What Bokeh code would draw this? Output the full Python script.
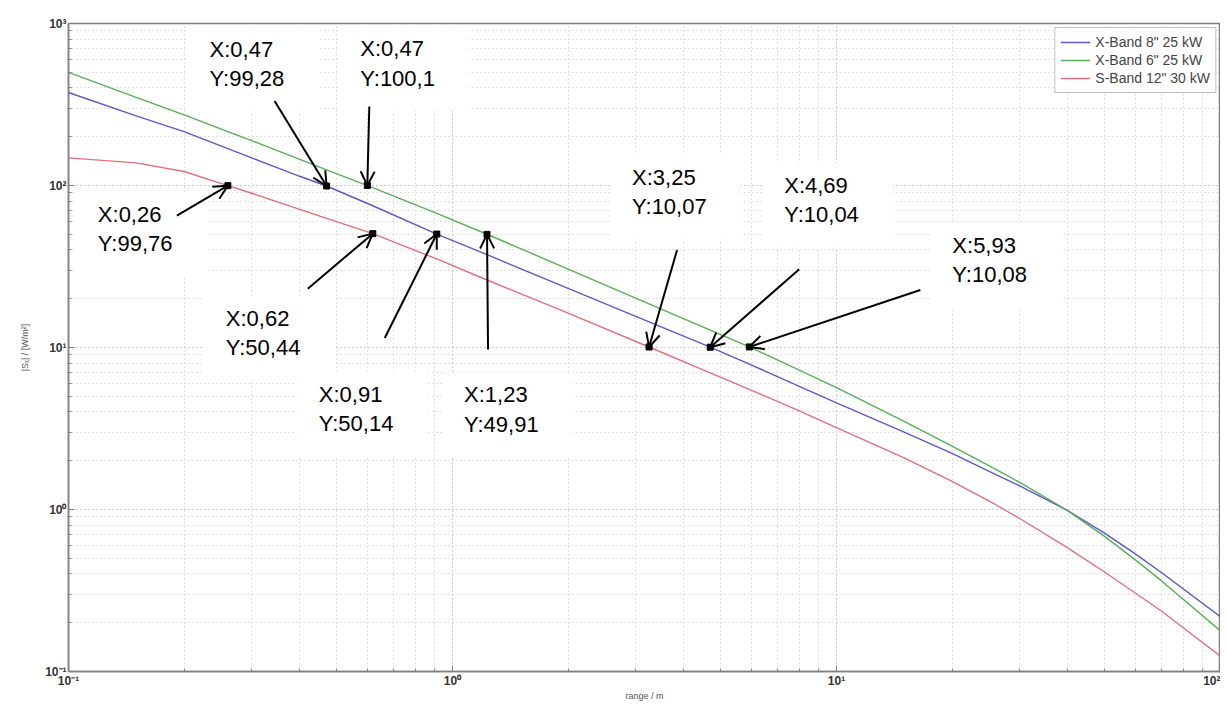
import math
from bokeh.plotting import figure
from bokeh.models import (FixedTicker, CustomJSTickFormatter, Label, Arrow, OpenHead,
                          Legend, LegendItem)
from bokeh.embed import file_html
from bokeh.resources import INLINE

# ---------------- data ----------------
range_m = [0.1, 0.15, 0.2, 0.26, 0.3, 0.4, 0.47, 0.62, 0.91, 1.23, 2, 3.25, 4.69, 5.93,
           8, 10, 15, 20, 26, 30, 40, 50, 60, 70, 100]
xband8 = [375, 269, 215, 169, 148, 114, 99.3, 75, 50.1, 37.4, 23.2, 14.4, 10.04, 7.9,
          5.75, 4.55, 3.0, 2.22, 1.64, 1.40, 0.985, 0.712, 0.532, 0.41, 0.218]
xband6 = [499, 350, 273, 215, 189, 145, 125, 97.0, 67.3, 50.0, 30.5, 18.6, 12.8, 10.08,
          7.25, 5.65, 3.5, 2.46, 1.77, 1.47, 0.985, 0.68, 0.489, 0.365, 0.178]
sband12 = [148, 138, 122, 99.8, 89.6, 71.2, 62.6, 50.4, 35.2, 26.1, 16.3, 10.07, 6.98, 5.52,
           4.06, 3.2, 2.08, 1.49, 1.07, 0.88, 0.58, 0.41, 0.305, 0.237, 0.124]
series_names = ['X-Band 8" 25 kW', 'X-Band 6" 25 kW', 'S-Band 12" 30 kW']

tip_x = [0.26, 0.47, 0.60, 0.62, 0.91, 1.23, 3.25, 4.69, 5.93]
tip_y = [99.76, 99.28, 100.1, 50.44, 50.14, 49.91, 10.07, 10.04, 10.08]
tip_text = ["X:0,26\nY:99,76", "X:0,47\nY:99,28", "X:0,47\nY:100,1",
            "X:0,62\nY:50,44", "X:0,91\nY:50,14", "X:1,23\nY:49,91",
            "X:3,25\nY:10,07", "X:4,69\nY:10,04", "X:5,93\nY:10,08"]

x_major = [0.1, 1, 10, 100]
y_major = [0.1, 1, 10, 100, 1000]

# ---------------- layout (pixels, y downwards, relative to each data tip) ----------------
text_off = [(-130, 23), (-117, -142), (-7, -142), (-147, 79), (-118, 155), (-23, 155),
            (-17, -175), (74, -167), (203, -107)]
tail_off = [(-51, 30), (-52, -85), (2, -79), (-65, 55), (-52, 104), (1, 115),
            (28, -97), (89, -78), (171, -57)]

W, H = 1220, 703
ML, MR, MT, MB = 68, 0, 23, 30
frame_w = W - ML - MR
frame_h = 648
px_per_dec_x = frame_w / 3.0
px_per_dec_y = frame_h / 4.0

FONT = "Liberation Sans"
blue, green, red = "#5a5ac8", "#5aae5a", "#e0707a"

p = figure(width=W, height=H, x_axis_type="log", y_axis_type="log",
           x_range=(0.1, 100), y_range=(0.1, 1000),
           output_backend="svg", toolbar_location=None,
           min_border_left=ML, min_border_right=MR, min_border_top=MT, min_border_bottom=MB,
           background_fill_color="white", border_fill_color="white")

minor_x = [m * d for d in [0.1, 1, 10] for m in range(2, 10)]
minor_y = [m * d for d in [0.1, 1, 10, 100] for m in range(2, 10)]
p.xaxis.ticker = FixedTicker(ticks=x_major, minor_ticks=minor_x)
p.yaxis.ticker = FixedTicker(ticks=y_major, minor_ticks=minor_y)

fmt_code = """
const e = Math.round(Math.log10(tick));
const m = {"-": "\u207b", "0": "\u2070", "1": "\u00b9", "2": "\u00b2", "3": "\u00b3"};
return "10" + String(e).split("").map(c => m[c]).join("");
"""
for ax in (p.xaxis[0], p.yaxis[0]):
    ax.formatter = CustomJSTickFormatter(code=fmt_code)
    ax.major_label_text_font = FONT
    ax.major_label_text_font_style = "bold"
    ax.major_label_text_font_size = "12px"
    ax.major_label_text_color = "#333333"
    ax.major_label_standoff = 2
    ax.axis_line_color = "#808080"
    ax.axis_line_width = 1.5
    ax.major_tick_in = 6
    ax.major_tick_out = 0
    ax.minor_tick_in = 3
    ax.minor_tick_out = 0
    ax.major_tick_line_color = "#808080"
    ax.minor_tick_line_color = "#808080"
    ax.axis_label_text_font = FONT
    ax.axis_label_text_font_style = "normal"
    ax.axis_label_text_font_size = "9px"
    ax.axis_label_text_color = "#555555"
    ax.axis_label_standoff = 0

p.yaxis.axis_label_standoff = 12
p.xaxis.axis_label = "range / m"
p.yaxis.axis_label = "|S\u2093| / [W/m\u00b2]"

for g in (p.xgrid[0], p.ygrid[0]):
    g.grid_line_color = "#9a9a9a"
    g.grid_line_dash = "1 3"
    g.grid_line_width = 1
    g.minor_grid_line_color = "#c4c4c4"
    g.minor_grid_line_dash = "1 3"

p.outline_line_color = "#808080"
p.outline_line_width = 1.5

r1 = p.line(range_m, xband8, line_color=blue, line_width=1.4)
r2 = p.line(range_m, xband6, line_color=green, line_width=1.4)
r3 = p.line(range_m, sband12, line_color=red, line_width=1.4)

legend = Legend(items=[LegendItem(label=series_names[0], renderers=[r1]),
                       LegendItem(label=series_names[1], renderers=[r2]),
                       LegendItem(label=series_names[2], renderers=[r3])],
                location="top_right", margin=4, padding=5, spacing=0,
                label_text_font=FONT, label_text_font_size="14px",
                label_height=18, glyph_height=18, glyph_width=30, label_standoff=5,
                border_line_color="#808080", background_fill_alpha=1.0)
p.add_layout(legend)

# data tip boxes and arrows
for i in range(len(tip_x)):
    mx, my = tip_x[i], tip_y[i]
    dx, dy = text_off[i]
    lab = Label(x=mx, y=my, x_units="data", y_units="data",
                x_offset=dx - 22, y_offset=-(dy - 17),
                text=tip_text[i], text_font=FONT, text_font_size="22px",
                text_color="black", text_align="left", text_baseline="top",
                text_line_height=1.17,
                background_fill_color="white", background_fill_alpha=1.0,
                padding=dict(left=22, right=34, top=10, bottom=20))
    p.add_layout(lab)

for i in range(len(tip_x)):
    mx, my = tip_x[i], tip_y[i]
    tx, ty = tail_off[i]
    xs = mx * 10 ** (tx / px_per_dec_x)
    ys = my * 10 ** (-ty / px_per_dec_y)
    arr = Arrow(x_start=xs, y_start=ys, x_end=mx, y_end=my,
                line_color="black", line_width=2,
                end=OpenHead(size=14, line_width=2, line_color="black"))
    p.add_layout(arr)

p.scatter(tip_x, tip_y, marker="square", size=6, fill_color="black", line_color="black")

open("out.html", "w").write(file_html(p, INLINE))
